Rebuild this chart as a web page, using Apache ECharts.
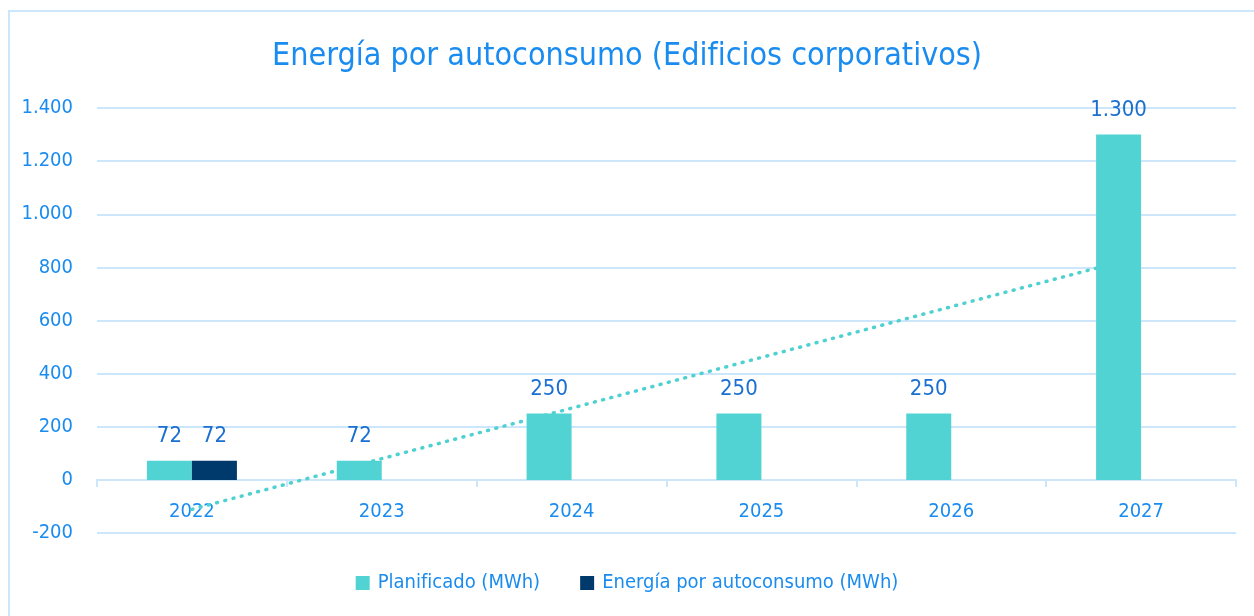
<!DOCTYPE html>
<html lang="es">
<head>
    <meta charset="UTF-8">
    <title>Energía por autoconsumo (Edificios corporativos)</title>
    <script src="https://cdn.jsdelivr.net/npm/echarts@6/dist/echarts.min.js"></script>
    <style>
        html, body { margin: 0; padding: 0; width: 100%; height: 100%; background: #fff; }
        #main { width: 1254px; height: 616px; }
    </style>
</head>
<body>
    <div id="main"></div>
    <script>
        // datos
        var years = ['2022', '2023', '2024', '2025', '2026', '2027'];
        var planificado = [72, 72, 250, 250, 250, 1300];
        var autoconsumo = [72, '-', '-', '-', '-', '-'];
        // línea de tendencia
        var tendencia = [-111, 80, 270, 461, 652, 842];

        var FONT = '"Liberation Sans Narrow", "DejaVu Sans Condensed", Roboto, sans-serif';
        var LIGHT = '#cce6fb';
        var BLUE = '#1a8cf0';

        function fmt(v) {
            return String(v).replace(/\B(?=(\d{3})+(?!\d))/g, '.');
        }

        var chart = echarts.init(document.getElementById('main'));
        chart.setOption({
            animation: false,
            textStyle: { fontFamily: FONT },
            graphic: [{
                type: 'rect',
                shape: { x: 9, y: 11, width: 1300, height: 700 },
                style: { fill: 'none', stroke: LIGHT, lineWidth: 2 },
                silent: true
            }],
            title: {
                text: 'Energía por autoconsumo (Edificios corporativos)',
                left: 'center',
                top: 36,
                textStyle: { color: BLUE, fontSize: 32, fontWeight: 'normal', fontFamily: FONT }
            },
            legend: {
                bottom: 18,
                left: 'center',
                icon: 'rect',
                itemWidth: 14,
                itemHeight: 14,
                itemGap: 40,
                data: ['Planificado (MWh)', 'Energía por autoconsumo (MWh)'],
                textStyle: { color: BLUE, fontSize: 20, fontFamily: FONT, padding: [0, 0, 0, 3] }
            },
            grid: { left: 97, right: 18, top: 108, bottom: 83, containLabel: false },
            xAxis: {
                type: 'category',
                data: years,
                axisLine: { onZero: true, lineStyle: { color: LIGHT, width: 2 } },
                axisTick: { show: true, length: 7, lineStyle: { color: LIGHT, width: 2 } },
                axisLabel: { color: BLUE, fontSize: 20, margin: -31, fontFamily: FONT }
            },
            yAxis: {
                type: 'value',
                min: -200,
                max: 1400,
                interval: 200,
                axisLine: { show: false },
                axisTick: { show: false },
                axisLabel: { color: BLUE, fontSize: 20, margin: 24, fontFamily: FONT, formatter: fmt },
                splitLine: { lineStyle: { color: LIGHT, width: 2 } }
            },
            series: [{
                name: 'Planificado (MWh)',
                type: 'bar',
                data: planificado,
                barWidth: 45,
                barGap: '0%',
                z: 3,
                itemStyle: { color: '#52d3d3' },
                label: {
                    show: true, position: 'top', distance: 13,
                    color: '#1a6fd0', fontSize: 22, fontFamily: FONT,
                    formatter: function (p) { return fmt(p.value); }
                }
            }, {
                name: 'Energía por autoconsumo (MWh)',
                type: 'bar',
                data: autoconsumo,
                barWidth: 45,
                z: 3,
                itemStyle: { color: '#003a6c' },
                label: {
                    show: true, position: 'top', distance: 13,
                    color: '#1a6fd0', fontSize: 22, fontFamily: FONT,
                    formatter: function (p) { return fmt(p.value); }
                }
            }, {
                name: 'Tendencia',
                type: 'line',
                data: tendencia,
                z: 1,
                symbol: 'none',
                silent: true,
                lineStyle: { color: '#4fd1d1', width: 3.5, type: [1, 7.5], cap: 'round' }
            }]
        });
    </script>
</body>
</html>
